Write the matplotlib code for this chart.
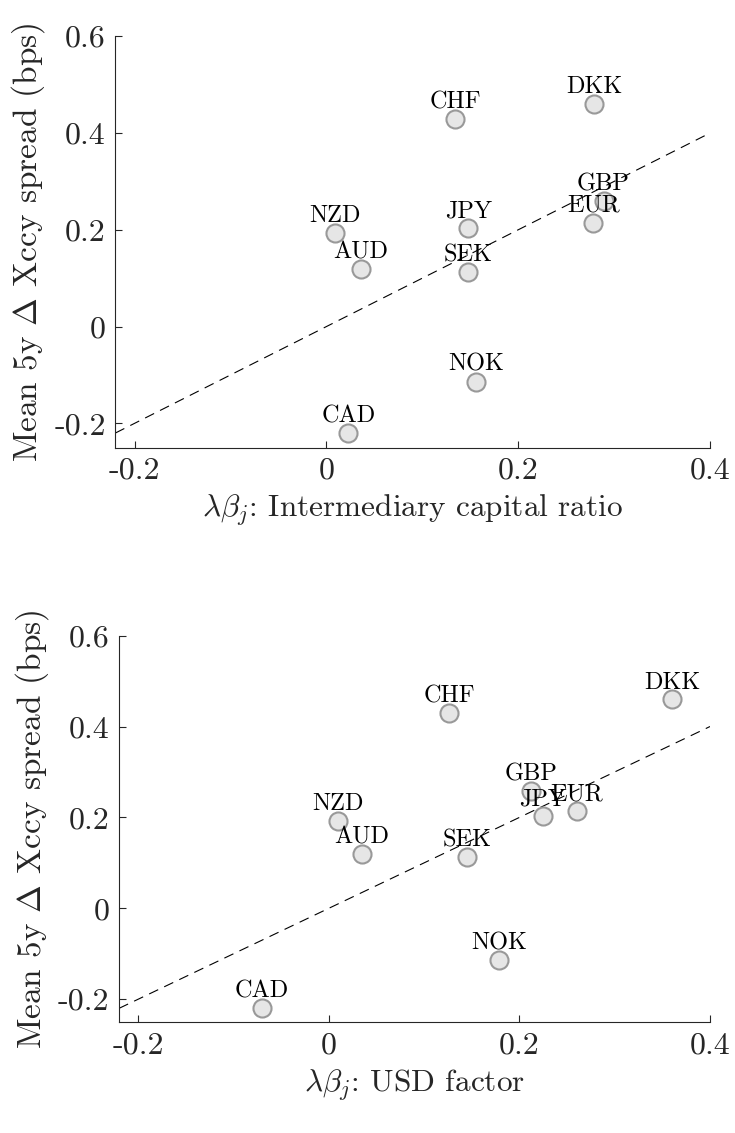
import numpy as np
import matplotlib
matplotlib.use('Agg')
from matplotlib import pyplot as plt

plt.rcParams['font.family'] = 'serif'
plt.rcParams['font.serif'] = ['cmr10']
plt.rcParams['mathtext.fontset'] = 'cm'
plt.rcParams['axes.formatter.use_mathtext'] = True

# data
ccy = ['DKK', 'CHF', 'GBP', 'EUR', 'JPY', 'NZD', 'AUD', 'SEK', 'NOK', 'CAD']
spread = [0.460, 0.429, 0.259, 0.215, 0.204, 0.193, 0.119, 0.112, -0.114, -0.220]
beta_icr = [0.279, 0.134, 0.289, 0.2785, 0.148, 0.009, 0.036, 0.148, 0.156, 0.023]
beta_usd = [0.360, 0.1265, 0.2125, 0.260, 0.2247, 0.0093, 0.0347, 0.1455, 0.179, -0.070]

xticks = [-0.2, 0, 0.2, 0.4]
xticklabels = ['-0.2', '0', '0.2', '0.4']
yticks = [-0.2, 0, 0.2, 0.4, 0.6]
yticklabels = ['-0.2', '0', '0.2', '0.4', '0.6']
xlabels = [r'$\lambda\beta_j$: Intermediary capital ratio', r'$\lambda\beta_j$: USD factor']

fig = plt.figure(figsize=(7.35, 11.33), dpi=100)
axes = [fig.add_axes([0.157, 0.605, 0.809, 0.363]),
        fig.add_axes([0.162, 0.098, 0.804, 0.341])]

dark = (0.15, 0.15, 0.15)
for ax, bx, xl in zip(axes, [beta_icr, beta_usd], xlabels):
    # 45 degree line
    ax.plot([-0.22, 0.4], [-0.22, 0.4], '--', color='k', lw=0.8, dashes=(9, 6))
    ax.plot(bx, spread, 'o', ms=13, mfc=(0.9, 0.9, 0.9), mec=(0.6, 0.6, 0.6), mew=1.5)
    for c, x, y in zip(ccy, bx, spread):
        ax.text(x, y + 0.012, c, ha='center', va='bottom', fontsize=17.5)
    ax.set_xlim(-0.22, 0.4)
    ax.set_ylim(-0.25, 0.6)
    ax.set_xticks(xticks)
    ax.set_xticklabels(xticklabels)
    ax.set_yticks(yticks)
    ax.set_yticklabels(yticklabels)
    ax.tick_params(direction='in', length=5, width=0.8, labelsize=23, colors=dark, pad=7)
    for s in ['top', 'right']:
        ax.spines[s].set_visible(False)
    for s in ['left', 'bottom']:
        ax.spines[s].set_color(dark)
        ax.spines[s].set_linewidth(0.8)
    ax.set_xlabel(xl, fontsize=22.5, color=dark, labelpad=6)
    ax.set_ylabel(r'Mean 5y $\Delta$ Xccy spread (bps)', fontsize=24, color=dark, labelpad=5)

fig.savefig('out.png', dpi=100)
